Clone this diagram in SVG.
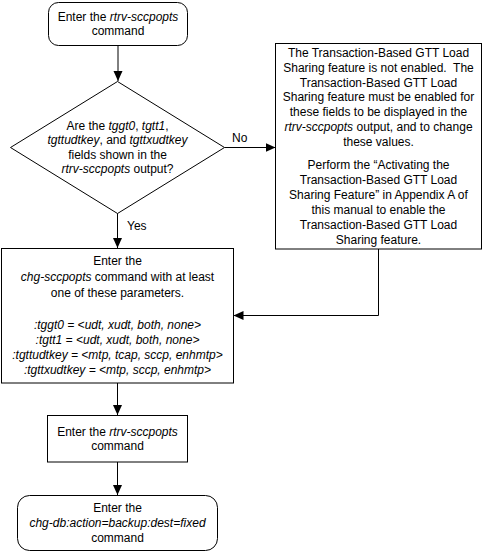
<svg xmlns="http://www.w3.org/2000/svg" width="483" height="553" viewBox="0 0 483 553">
<style>
  .shape { fill: #ffffff; stroke: #000000; stroke-width: 1; }
  .conn { fill: none; stroke: #000000; stroke-width: 1; }
  text { font-family: "Liberation Sans", Arial, sans-serif; font-size: 12px; fill: #000000; }
  .c { text-anchor: middle; }
  .i { font-style: italic; }
</style>
<defs>
  <marker id="arrow" markerWidth="11" markerHeight="10" refX="10" refY="5" orient="auto" markerUnits="userSpaceOnUse">
    <path d="M0,0.5 L10,5 L0,9.5 Z" fill="#000000"/>
  </marker>
</defs>
<rect width="483" height="553" fill="#ffffff"/>

<g id="connectors">
  <line class="conn" x1="118" y1="45.5" x2="118" y2="81" marker-end="url(#arrow)"/>
  <line class="conn" x1="224.5" y1="147.5" x2="275.5" y2="147.5" marker-end="url(#arrow)"/>
  <line class="conn" x1="117.5" y1="213" x2="117.5" y2="248" marker-end="url(#arrow)"/>
  <polyline class="conn" points="378.5,249 378.5,315.5 233.5,315.5" marker-end="url(#arrow)"/>
  <line class="conn" x1="117.5" y1="383" x2="117.5" y2="415" marker-end="url(#arrow)"/>
  <line class="conn" x1="117.5" y1="462" x2="117.5" y2="495" marker-end="url(#arrow)"/>
  <text x="232" y="141.5">No</text>
  <text x="127" y="229.5">Yes</text>
</g>

<g id="start">
  <rect class="shape" x="48.5" y="2.5" width="139" height="43" rx="10" ry="10"/>
  <text class="c" x="118" y="20.5">Enter the <tspan class="i">rtrv-sccpopts</tspan></text>
  <text class="c" x="118" y="35">command</text>
</g>

<g id="decision">
  <polygon class="shape" points="117.5,81.5 224.5,147.5 117.5,213.5 10.5,147.5"/>
  <text class="c" x="117.5" y="129.5">Are the <tspan class="i">tggt0</tspan>, <tspan class="i">tgtt1</tspan>,</text>
  <text class="c" x="117.5" y="144"><tspan class="i">tgttudtkey</tspan>, and <tspan class="i">tgttxudtkey</tspan></text>
  <text class="c" x="117.5" y="158.5">fields shown in the</text>
  <text class="c" x="117.5" y="173"><tspan class="i">rtrv-sccpopts</tspan> output?</text>
</g>

<g id="notEnabled">
  <rect class="shape" x="275.5" y="43.5" width="206" height="205.5"/>
  <text class="c" x="378.5" y="57">The Transaction-Based GTT Load</text>
  <text class="c" x="378.5" y="71.8" xml:space="preserve">Sharing feature is not enabled.  The</text>
  <text class="c" x="378.5" y="86.6">Transaction-Based GTT Load</text>
  <text class="c" x="378.5" y="101.4">Sharing feature must be enabled for</text>
  <text class="c" x="378.5" y="116.2">these fields to be displayed in the</text>
  <text class="c" x="378.5" y="131"><tspan class="i">rtrv-sccpopts</tspan> output, and to change</text>
  <text class="c" x="378.5" y="145.8">these values.</text>
  <text class="c" x="378.5" y="169">Perform the “Activating the</text>
  <text class="c" x="378.5" y="184">Transaction-Based GTT Load</text>
  <text class="c" x="378.5" y="199">Sharing Feature” in Appendix A of</text>
  <text class="c" x="378.5" y="214">this manual to enable the</text>
  <text class="c" x="378.5" y="229">Transaction-Based GTT Load</text>
  <text class="c" x="378.5" y="244">Sharing feature.</text>
</g>

<g id="chgSccpopts">
  <rect class="shape" x="1.5" y="248.5" width="232" height="134.5"/>
  <text class="c" x="117.5" y="264.5">Enter the</text>
  <text class="c" x="117.5" y="280.5"><tspan class="i">chg-sccpopts</tspan> command with at least</text>
  <text class="c" x="117.5" y="296.5">one of these parameters.</text>
  <text class="c i" x="117.5" y="329">:tggt0 = &lt;udt, xudt, both, none&gt;</text>
  <text class="c i" x="117.5" y="344">:tgtt1 = &lt;udt, xudt, both, none&gt;</text>
  <text class="c i" x="117.5" y="359">:tgttudtkey = &lt;mtp, tcap, sccp, enhmtp&gt;</text>
  <text class="c i" x="117.5" y="374">:tgttxudtkey = &lt;mtp, sccp, enhmtp&gt;</text>
</g>

<g id="rtrvSccpopts">
  <rect class="shape" x="47.5" y="415.5" width="140" height="46.5"/>
  <text class="c" x="117.5" y="436">Enter the <tspan class="i">rtrv-sccpopts</tspan></text>
  <text class="c" x="117.5" y="450">command</text>
</g>

<g id="chgDb">
  <rect class="shape" x="17.5" y="495.5" width="200" height="55" rx="12" ry="12"/>
  <text class="c" x="117.5" y="512">Enter the</text>
  <text class="c i" x="117.5" y="527">chg-db:action=backup:dest=fixed</text>
  <text class="c" x="117.5" y="542">command</text>
</g>
</svg>
